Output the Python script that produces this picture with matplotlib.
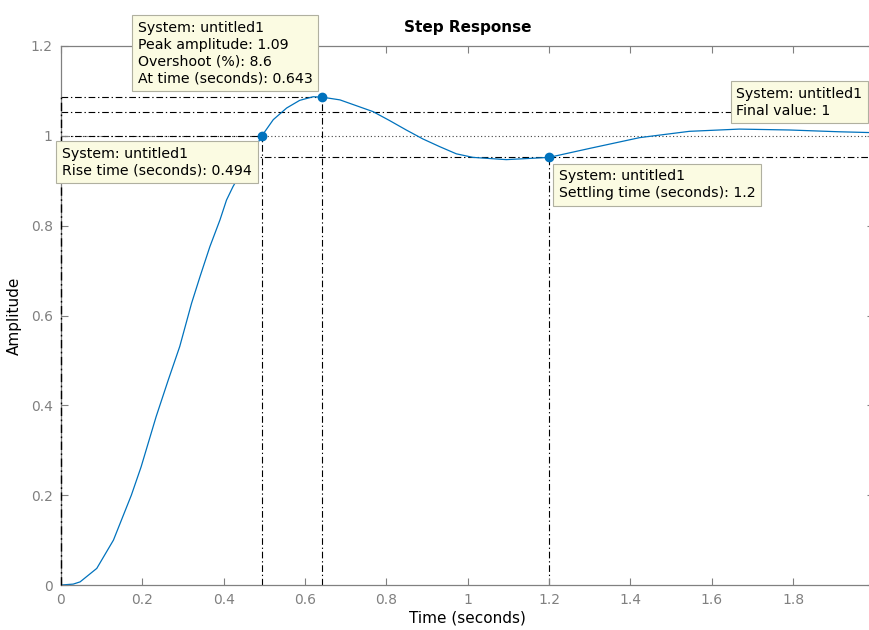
import matplotlib
matplotlib.use('Agg')
import matplotlib.pyplot as plt

# Step response samples
t = [0, 0.03, 0.047, 0.088, 0.129, 0.173, 0.197, 0.234, 0.264, 0.292, 0.321, 0.342,
     0.366, 0.391, 0.407, 0.423, 0.494, 0.522, 0.555, 0.587, 0.620, 0.643, 0.686,
     0.767, 0.808, 0.849, 0.890, 0.931, 0.972, 1.013, 1.095, 1.2, 1.30, 1.423, 1.545,
     1.668, 1.791, 1.914, 2.0]
amp = [0, 0.002, 0.007, 0.037, 0.100, 0.200, 0.263, 0.375, 0.457, 0.531, 0.627, 0.687,
       0.753, 0.813, 0.857, 0.887, 1.0, 1.036, 1.062, 1.079, 1.087, 1.086, 1.080,
       1.054, 1.034, 1.013, 0.993, 0.976, 0.960, 0.952, 0.947, 0.952, 0.972, 0.996,
       1.010, 1.015, 1.013, 1.009, 1.007]

# characteristics
rise_time = 0.494
peak_time = 0.643
peak_amp = 1.086
overshoot = 8.6
settle_time = 1.2
settle_amp = 0.952
final_value = 1.0
band_hi = 1.053
band_lo = 0.952

xticks = [0, 0.2, 0.4, 0.6, 0.8, 1.0, 1.2, 1.4, 1.6, 1.8]
xtick_labels = ['0', '0.2', '0.4', '0.6', '0.8', '1', '1.2', '1.4', '1.6', '1.8']
yticks = [0, 0.2, 0.4, 0.6, 0.8, 1.0, 1.2]
ytick_labels = ['0', '0.2', '0.4', '0.6', '0.8', '1', '1.2']

blue = '#0072BD'
gray = '#808080'
box_style = dict(boxstyle='square,pad=0.4', fc='#fbfbe2', ec='#b0b0a0', lw=0.8)
dashdot = (0, (6, 2.5, 1.2, 2.5))
tip = dict(fontsize=10.2, linespacing=1.25, multialignment='left', bbox=box_style, zorder=5)

fig = plt.figure(figsize=(8.7, 6.3), dpi=100)
ax = fig.add_axes([0.0701, 0.0714, 0.9349, 0.8556])

# reference lines
ax.axhline(final_value, color='#444444', ls=(0, (1, 2.2)), lw=0.8, zorder=1)
ax.axhline(band_hi, color='black', ls=dashdot, lw=0.8, zorder=1)
ax.axhline(band_lo, color='black', ls=dashdot, lw=0.8, zorder=1)
ax.plot([0, peak_time], [peak_amp, peak_amp], color='black', ls=dashdot, lw=0.8, zorder=1)
ax.plot([0, rise_time], [final_value, final_value], color='black', ls=dashdot, lw=0.8, zorder=1)
ax.plot([0, 0], [0, peak_amp], color='black', ls=dashdot, lw=1.0, zorder=3, clip_on=False)
ax.plot([rise_time, rise_time], [0, final_value], color='black', ls=dashdot, lw=0.8, zorder=1)
ax.plot([peak_time, peak_time], [0, peak_amp], color='black', ls=dashdot, lw=0.8, zorder=1)
ax.plot([settle_time, settle_time], [0, settle_amp], color='black', ls=dashdot, lw=0.8, zorder=1)

# response curve and markers
ax.plot(t, amp, color=blue, lw=0.9, zorder=2)
ax.plot([rise_time, peak_time, settle_time], [final_value, peak_amp, settle_amp],
        'o', color=blue, ms=6, zorder=4)

# data tips
ax.annotate('System: untitled1\nPeak amplitude: 1.09\nOvershoot (%%): %.1f\nAt time (seconds): %.3f'
            % (overshoot, peak_time),
            xy=(peak_time, peak_amp), xytext=(-10, 12), textcoords='offset pixels',
            ha='right', va='bottom', **tip)
ax.annotate('System: untitled1\nRise time (seconds): %.3f' % rise_time,
            xy=(rise_time, final_value), xytext=(-10, -11), textcoords='offset pixels',
            ha='right', va='top', **tip)
ax.annotate('System: untitled1\nSettling time (seconds): %.1f' % settle_time,
            xy=(settle_time, settle_amp), xytext=(10, -12), textcoords='offset pixels',
            ha='left', va='top', **tip)
ax.text(1.661, 1.109, 'System: untitled1\nFinal value: 1', ha='left', va='top', **tip)

ax.set_xlim(0, 2)
ax.set_ylim(0, 1.2)
ax.set_xticks(xticks)
ax.set_xticklabels(xtick_labels)
ax.set_yticks(yticks)
ax.set_yticklabels(ytick_labels)
ax.tick_params(direction='in', length=5, width=0.8, top=True, right=True,
               colors=gray, labelsize=10, pad=6)
for spine in ax.spines.values():
    spine.set_color(gray)
    spine.set_linewidth(0.9)
# the right edge of the axes falls just outside the picture
ax.spines['right'].set_visible(False)

ax.set_title('Step Response', fontsize=11, fontweight='bold', pad=10)
ax.set_xlabel('Time (seconds)', fontsize=11, labelpad=2)
ax.set_ylabel('Amplitude', fontsize=11, labelpad=6)

fig.savefig('out.png', dpi=100)
